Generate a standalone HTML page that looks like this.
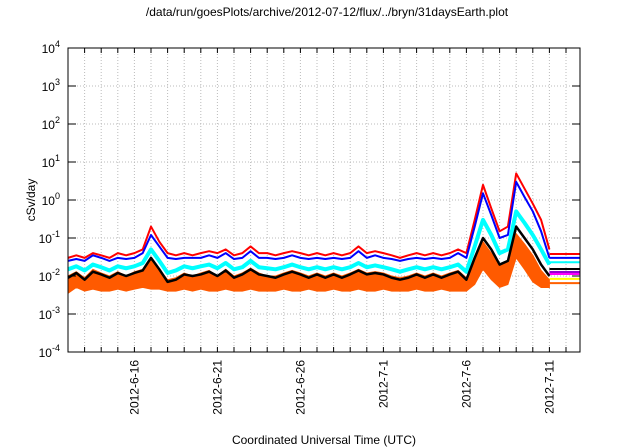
<!DOCTYPE html>
<html><head><meta charset="utf-8"><style>
html,body{margin:0;padding:0;background:#fff;}
svg{display:block;font-family:"Liberation Sans",Arial,sans-serif;}
</style></head><body>
<svg id="chart" width="640" height="448" viewBox="0 0 640 448" xmlns="http://www.w3.org/2000/svg">
<text x="327" y="16" font-size="12" text-anchor="middle">/data/run/goesPlots/archive/2012-07-12/flux/../bryn/31daysEarth.plot</text>
<text transform="translate(35,200) rotate(-90)" font-size="12" text-anchor="middle">cSv/day</text>
<text x="324" y="444" font-size="12" text-anchor="middle">Coordinated Universal Time (UTC)</text>
<g id="grid"></g>
<g id="series"></g>
<g id="axes"></g>
</svg>
<script>
// ---- data ----
const tickLabels = ["2012-6-16","2012-6-21","2012-6-26","2012-7-1","2012-7-6","2012-7-11"];
const tickDays = [4,9,14,19,24,29];
const yExps = [-4,-3,-2,-1,0,1,2,3,4];
// half-day samples from 2012-6-12
const redVals = [0.03,0.035,0.03,0.04,0.035,0.03,0.04,0.035,0.04,0.05,0.2,0.08,0.04,0.035,0.04,0.035,0.04,0.045,0.04,0.05,0.035,0.04,0.06,0.04,0.04,0.035,0.04,0.045,0.04,0.035,0.04,0.035,0.04,0.035,0.04,0.06,0.04,0.045,0.04,0.035,0.03,0.035,0.04,0.035,0.04,0.035,0.04,0.05,0.04,0.3,2.5,0.6,0.15,0.2,5,2,0.8,0.3,0.05];
const blueVals = [0.025,0.028,0.025,0.035,0.03,0.025,0.03,0.028,0.03,0.04,0.12,0.06,0.03,0.028,0.03,0.03,0.03,0.035,0.03,0.04,0.028,0.03,0.045,0.03,0.03,0.028,0.03,0.035,0.03,0.028,0.03,0.028,0.03,0.028,0.03,0.045,0.03,0.035,0.03,0.028,0.025,0.028,0.03,0.028,0.03,0.028,0.03,0.04,0.03,0.2,1.5,0.4,0.1,0.12,3,1.2,0.5,0.15,0.03];
const cyanVals = [0.015,0.018,0.014,0.02,0.017,0.014,0.018,0.016,0.018,0.022,0.05,0.025,0.012,0.014,0.018,0.016,0.018,0.02,0.016,0.022,0.015,0.017,0.025,0.017,0.016,0.015,0.017,0.02,0.017,0.015,0.017,0.015,0.017,0.015,0.017,0.022,0.017,0.019,0.017,0.015,0.013,0.015,0.017,0.015,0.017,0.015,0.017,0.02,0.013,0.06,0.3,0.12,0.04,0.05,0.5,0.25,0.12,0.05,0.02];
const blackVals = [0.009,0.012,0.008,0.013,0.011,0.009,0.012,0.01,0.012,0.014,0.03,0.015,0.007,0.008,0.011,0.01,0.011,0.013,0.01,0.014,0.009,0.011,0.015,0.011,0.01,0.009,0.011,0.013,0.011,0.009,0.011,0.009,0.011,0.009,0.011,0.014,0.011,0.012,0.011,0.009,0.008,0.009,0.011,0.009,0.011,0.009,0.011,0.013,0.008,0.03,0.1,0.05,0.02,0.025,0.2,0.1,0.05,0.02,0.01];
const orangeHi = [0.01,0.013,0.009,0.015,0.012,0.01,0.013,0.01,0.013,0.015,0.03,0.015,0.008,0.009,0.012,0.01,0.012,0.014,0.01,0.015,0.01,0.012,0.016,0.012,0.01,0.01,0.012,0.014,0.012,0.01,0.012,0.01,0.012,0.01,0.012,0.015,0.012,0.013,0.012,0.01,0.009,0.01,0.012,0.01,0.012,0.01,0.012,0.014,0.009,0.03,0.08,0.04,0.018,0.025,0.13,0.07,0.035,0.014,0.008];
const orangeLo = [0.0035,0.005,0.004,0.0045,0.004,0.004,0.0045,0.004,0.0045,0.005,0.0045,0.0045,0.004,0.004,0.0045,0.004,0.0045,0.004,0.004,0.0045,0.004,0.004,0.0045,0.004,0.004,0.004,0.0045,0.004,0.004,0.0045,0.004,0.004,0.0045,0.004,0.004,0.0045,0.004,0.004,0.0045,0.004,0.004,0.004,0.0045,0.004,0.004,0.0045,0.004,0.004,0.004,0.006,0.015,0.008,0.005,0.006,0.03,0.015,0.007,0.005,0.005];
const tailVals = [0.038,0.030,0.023,0.0153,0.0127,0.0113,0.0084,0.0065];
const tailColors = ["#ff0000","#0000ff","#00ffff","#000000","#9400d3","#ff00ff","#ffff00","#ff6000"];

// ---- axes ----
const X0=68, X1=580, YT=48, YB=352, DAYS=(580-68)/16.6;
const xs = d => X0 + (d/DAYS)*(X1-X0);
const ys = v => YB - (Math.log10(v)+4)/8*(YB-YT);
const NS="http://www.w3.org/2000/svg";
function mk(tag, attrs, parent){const e=document.createElementNS(NS,tag);for(const k in attrs)e.setAttribute(k,attrs[k]);parent.appendChild(e);return e;}
const grid=document.getElementById('grid'), ser=document.getElementById('series'), ax=document.getElementById('axes');

for(let d=1; d<DAYS; d++){
  const gl=mk('line',{x1:xs(d),x2:xs(d),y1:YT,y2:YB,stroke:'#bbb','stroke-width':1,'stroke-dasharray':'1,2'},grid);
  
  
  const t1=mk('line',{x1:xs(d),x2:xs(d),y1:YB,y2:YB-5,stroke:'#000'},ax);
  
  
  const t2=mk('line',{x1:xs(d),x2:xs(d),y1:YT,y2:YT+5,stroke:'#000'},ax);
  
  
}
yExps.forEach(e=>{
  const y=ys(Math.pow(10,e));
  if(e>-4&&e<4){
    const gl=mk('line',{x1:X0,x2:X1,y1:y,y2:y,stroke:'#bbb','stroke-width':1,'stroke-dasharray':'1,2'},grid);
    
    
  }
  const t=mk('line',{x1:X0,x2:X0+8,y1:y,y2:y,stroke:'#000'},ax);
  
  
  const t2=mk('line',{x1:X1,x2:X1-8,y1:y,y2:y,stroke:'#000'},ax);
  
  
  const lb=mk('text',{x:X0-8,y:y+5,'font-size':12,'text-anchor':'end'},ax);
  
  
  lb.textContent='10';
  const sp=mk('tspan',{dy:-6,'font-size':9},lb); sp.textContent=String(e);
});
tickDays.forEach((d,i)=>{
  const lb=mk('text',{transform:`translate(${xs(d)+4},360) rotate(-90)`,'font-size':12,'text-anchor':'end'},ax);
  
  
  lb.textContent=tickLabels[i];
});
const frame=mk('rect',{x:X0,y:YT,width:X1-X0,height:YB-YT,fill:'none',stroke:'#000','stroke-width':1},ax);



// ---- series ----
const tEnd=(redVals.length-1)*0.5;
tailVals.forEach((v,i)=>{
  const l=mk('line',{x1:xs(tEnd),x2:X1,y1:ys(v),y2:ys(v),stroke:tailColors[i],'stroke-width':2},ser);
  
  
});
function line(vals,color,w,name){
  const p=mk('polyline',{points:vals.map((v,i)=>xs(i*0.5)+','+ys(v)).join(' '),fill:'none',stroke:color,'stroke-width':w,'stroke-linejoin':'round'},ser);
  
  
}
let pts=orangeHi.map((v,i)=>xs(i*0.5)+','+ys(v));
for(let i=orangeLo.length-1;i>=0;i--) pts.push(xs(i*0.5)+','+ys(orangeLo[i]));
const band=mk('polygon',{points:pts.join(' '),fill:'#ff5a00',stroke:'#ff5a00','stroke-width':1},ser);


line(cyanVals,'#00ffff',4,'cyan-series');
line(blackVals,'#000000',2.5,'black-series');
line(redVals,'#ff0000',2,'red-series');
line(blueVals,'#0000ff',2,'blue-series');
</script>
</body></html>
